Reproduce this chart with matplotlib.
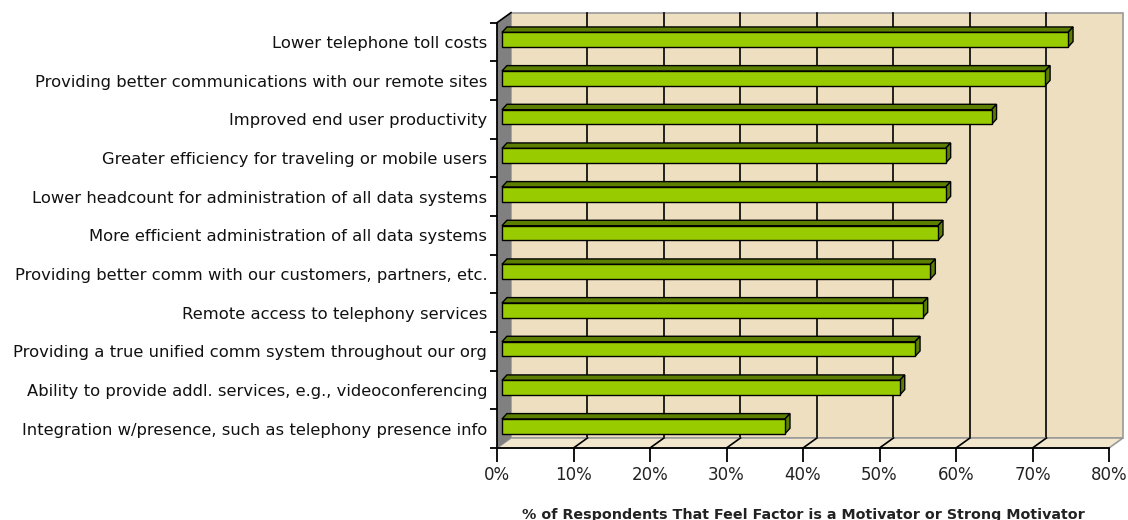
import matplotlib.pyplot as plt
from matplotlib.patches import Polygon

categories = [
    "Lower telephone toll costs",
    "Providing better communications with our remote sites",
    "Improved end user productivity",
    "Greater efficiency for traveling or mobile users",
    "Lower headcount for administration of all data systems",
    "More efficient administration of all data systems",
    "Providing better comm with our customers, partners, etc.",
    "Remote access to telephony services",
    "Providing a true unified comm system throughout our org",
    "Ability to provide addl. services, e.g., videoconferencing",
    "Integration w/presence, such as telephony presence info",
]
values = [74, 71, 64, 58, 58, 57, 56, 55, 54, 52, 37]
x_ticks = [0, 10, 20, 30, 40, 50, 60, 70, 80]
x_labels = [f"{t}%" for t in x_ticks]
xlabel = "% of Respondents That Feel Factor is a Motivator or Strong Motivator"

wall = "#EEDFC0"
green = "#99CC00"
dark_green = "#5C7F00"

fig = plt.figure(figsize=(11.28, 5.2), dpi=100)
ax = fig.add_axes([497 / 1128, 1 - 448 / 520, 612 / 1128, (448 - 22.7) / 520])
n = len(categories)
xmax = 80
ax.set_xlim(0, xmax)
ax.set_ylim(0, n)

# depth offsets (data units)
DX, DY = 1.83, 0.26

def poly(pts, fc, ec="none", lw=1.0, z=1):
    ax.add_patch(Polygon(pts, closed=True, facecolor=fc, edgecolor=ec,
                         linewidth=lw, zorder=z, clip_on=False))

# back wall
poly([(DX, DY), (xmax + DX, DY), (xmax + DX, n + DY), (DX, n + DY)], wall,
     ec="#9a9a9a", lw=1.2, z=0)
for t in x_ticks[1:-1]:
    ax.plot([t + DX, t + DX], [DY, n + DY], color="black", lw=1.2, zorder=1,
            clip_on=False)
# floor
poly([(0, 0), (xmax, 0), (xmax + DX, DY), (DX, DY)], "#F2E7CD",
     ec="#9a9a9a", lw=1.2, z=1)
for t in x_ticks[1:-1]:
    ax.plot([t, t + DX], [0, DY], color="black", lw=1.2, zorder=2,
            clip_on=False)
# left wall
poly([(0, 0), (DX, DY), (DX, n + DY), (0, n)], "#808080", z=2)
ax.plot([0, DX], [n, n + DY], color="black", lw=1.2, zorder=3, clip_on=False)

# bars (top category first)
bx0 = 0.65
bdx, bdy = 0.65, 0.14
for k, v in enumerate(values):
    i = n - 1 - k
    y0, y1 = i + 0.37, i + 0.75
    x1 = bx0 + v
    poly([(bx0, y1), (x1, y1), (x1 + bdx, y1 + bdy), (bx0 + bdx, y1 + bdy)],
         dark_green, ec="black", lw=1.0, z=4)
    poly([(x1, y0), (x1 + bdx, y0 + bdy), (x1 + bdx, y1 + bdy), (x1, y1)],
         dark_green, ec="black", lw=1.0, z=4)
    poly([(bx0, y0), (x1, y0), (x1, y1), (bx0, y1)], green,
         ec="black", lw=1.0, z=5)

for s in ["top", "right"]:
    ax.spines[s].set_visible(False)
for s in ["left", "bottom"]:
    ax.spines[s].set_linewidth(1.3)
    ax.spines[s].set_zorder(6)
ax.patch.set_visible(False)

ax.set_xticks(x_ticks)
ax.set_xticklabels(x_labels, fontsize=12, color="#222222")
ax.tick_params(axis="x", length=10, width=1.3, pad=3)

ax.set_yticks(range(n + 1))
ax.set_yticklabels([])
ax.tick_params(axis="y", which="major", length=5, width=1.3)
ax.set_yticks([i + 0.5 for i in range(n)], minor=True)
ax.set_yticklabels(categories[::-1], minor=True, fontsize=11.8, color="#111111")
ax.tick_params(axis="y", which="minor", length=0, pad=7)

fig.text(803 / 1128, 1 - 515 / 520, xlabel, ha="center", va="center",
         fontsize=10.3, fontweight="bold", color="#222222")

fig.savefig("out.png", dpi=100, facecolor="white")
